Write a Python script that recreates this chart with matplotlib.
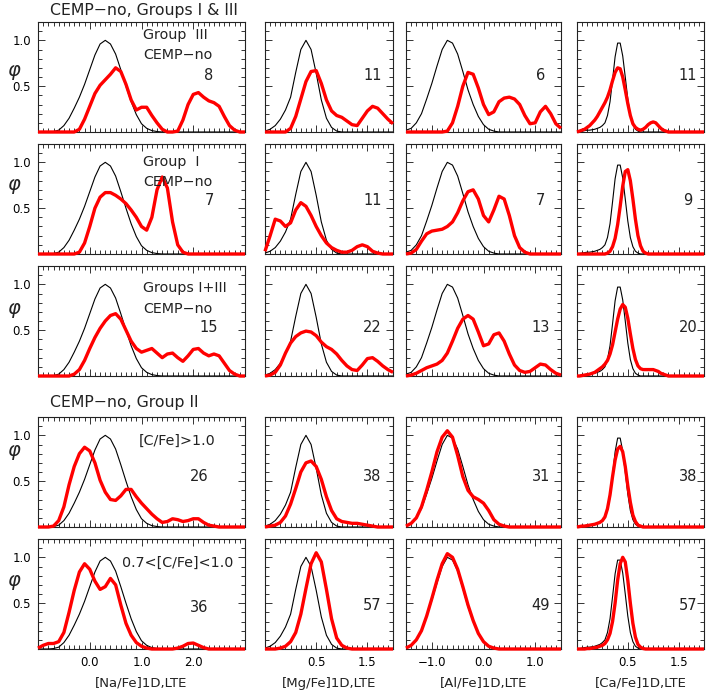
import numpy as np
import matplotlib
matplotlib.use("Agg")
import matplotlib.pyplot as plt
from matplotlib.ticker import MultipleLocator, FixedLocator, FixedFormatter, NullFormatter

plt.rcParams['font.family'] = ['DejaVu Sans']
plt.rcParams['mathtext.fontset'] = 'dejavusans'

# ---------------- data ----------------
na_x = np.round(np.arange(-1.0, 3.0001, 0.1), 2)
mg_x = np.round(np.arange(-0.5, 2.0001, 0.1), 2)
al_x = np.round(np.arange(-1.5, 1.5001, 0.1), 2)
ca_x = np.round(np.arange(-0.5, 2.0001, 0.05), 3)

na_black = [0, 0, 0, 0.005, 0.02, 0.07, 0.15, 0.26, 0.38, 0.52, 0.68, 0.84, 0.96, 1.0, 0.96,
            0.85, 0.68, 0.5, 0.33, 0.19, 0.09, 0.04, 0.015, 0.005, 0, 0, 0, 0, 0, 0,
            0, 0, 0, 0, 0, 0, 0, 0, 0, 0, 0]
na_g3 = [0, 0, 0, 0, 0, 0, 0, 0, 0.03, 0.14, 0.28, 0.42, 0.51, 0.57, 0.63, 0.70, 0.66, 0.52,
         0.35, 0.24, 0.27, 0.27, 0.18, 0.1, 0.03, 0.0, 0, 0.01, 0.13, 0.3, 0.41, 0.43, 0.38,
         0.34, 0.32, 0.28, 0.17, 0.07, 0.02, 0, 0]
na_g1 = [0, 0, 0, 0, 0, 0, 0, 0, 0.02, 0.12, 0.3, 0.5, 0.62, 0.67, 0.67, 0.64, 0.6, 0.55,
         0.48, 0.4, 0.3, 0.26, 0.4, 0.7, 0.84, 0.72, 0.35, 0.1, 0.02, 0, 0, 0, 0, 0, 0, 0,
         0, 0, 0, 0, 0]
na_g13 = [0, 0, 0, 0, 0, 0, 0, 0.02, 0.07, 0.17, 0.3, 0.42, 0.52, 0.6, 0.66, 0.68, 0.62,
          0.5, 0.38, 0.3, 0.26, 0.28, 0.3, 0.25, 0.2, 0.24, 0.25, 0.2, 0.16, 0.22, 0.29,
          0.3, 0.25, 0.22, 0.24, 0.22, 0.14, 0.06, 0.02, 0, 0]
na_g2a = [0, 0, 0, 0.01, 0.07, 0.22, 0.46, 0.66, 0.8, 0.87, 0.83, 0.7, 0.51, 0.38, 0.3,
          0.29, 0.34, 0.41, 0.41, 0.33, 0.26, 0.2, 0.14, 0.09, 0.05, 0.06, 0.09, 0.08,
          0.06, 0.07, 0.09, 0.09, 0.05, 0.02, 0.01, 0, 0, 0, 0, 0, 0]
na_g2b = [0.01, 0.04, 0.06, 0.06, 0.08, 0.18, 0.4, 0.64, 0.84, 0.93, 0.87, 0.74, 0.65,
          0.68, 0.77, 0.7, 0.48, 0.28, 0.15, 0.07, 0.03, 0.01, 0, 0, 0, 0, 0, 0.01, 0.03,
          0.06, 0.065, 0.04, 0.015, 0, 0, 0, 0, 0, 0, 0, 0]

mg_black = [0.01, 0.03, 0.07, 0.14, 0.24, 0.38, 0.65, 0.9, 1.0, 0.9, 0.64, 0.35, 0.15,
            0.05, 0.01, 0, 0, 0, 0, 0, 0, 0, 0, 0, 0, 0]
mg_g3 = [0, 0, 0, 0, 0, 0.04, 0.17, 0.36, 0.55, 0.66, 0.67, 0.53, 0.35, 0.23, 0.18, 0.16,
         0.12, 0.08, 0.07, 0.15, 0.23, 0.28, 0.26, 0.2, 0.14, 0.09]
mg_g1 = [0.03, 0.2, 0.38, 0.36, 0.3, 0.34, 0.48, 0.56, 0.52, 0.42, 0.3, 0.2, 0.12, 0.07,
         0.04, 0.02, 0.02, 0.04, 0.08, 0.1, 0.08, 0.03, 0.01, 0, 0, 0]
mg_g13 = [0, 0.01, 0.04, 0.12, 0.25, 0.36, 0.43, 0.47, 0.49, 0.48, 0.44, 0.37, 0.32, 0.29,
          0.24, 0.17, 0.11, 0.07, 0.06, 0.12, 0.19, 0.2, 0.16, 0.11, 0.07, 0.04]
mg_g2a = [0.0, 0.01, 0.02, 0.05, 0.12, 0.25, 0.42, 0.6, 0.7, 0.72, 0.66, 0.52, 0.33, 0.18,
          0.09, 0.06, 0.05, 0.04, 0.04, 0.03, 0.02, 0.01, 0, 0, 0, 0]
mg_g2b = [0, 0, 0, 0.01, 0.03, 0.08, 0.18, 0.38, 0.66, 0.93, 1.05, 0.95, 0.65, 0.33, 0.12,
          0.04, 0.01, 0, 0, 0, 0, 0, 0, 0, 0, 0]

al_black = [0.02, 0.04, 0.1, 0.2, 0.36, 0.53, 0.72, 0.9, 1.0, 0.97, 0.85, 0.66, 0.46, 0.3,
            0.17, 0.08, 0.03, 0.01, 0, 0, 0, 0, 0, 0, 0, 0, 0, 0, 0, 0, 0]
al_g3 = [0, 0, 0, 0, 0, 0, 0, 0, 0.01, 0.1, 0.28, 0.5, 0.65, 0.63, 0.48, 0.3, 0.19, 0.22,
         0.33, 0.37, 0.38, 0.36, 0.3, 0.18, 0.09, 0.1, 0.22, 0.28, 0.2, 0.09, 0.04]
al_g1 = [0, 0.01, 0.05, 0.14, 0.22, 0.25, 0.26, 0.27, 0.3, 0.35, 0.45, 0.58, 0.68, 0.7,
         0.6, 0.42, 0.35, 0.48, 0.63, 0.6, 0.42, 0.2, 0.07, 0.02, 0, 0, 0, 0, 0, 0, 0]
al_g13 = [0, 0.01, 0.03, 0.06, 0.09, 0.11, 0.13, 0.17, 0.25, 0.38, 0.52, 0.62, 0.66, 0.62,
          0.48, 0.33, 0.35, 0.45, 0.47, 0.38, 0.24, 0.12, 0.06, 0.04, 0.05, 0.09, 0.13,
          0.12, 0.07, 0.03, 0.01]
al_g2a = [0.01, 0.04, 0.1, 0.22, 0.4, 0.6, 0.82, 0.98, 1.05, 0.98, 0.78, 0.55, 0.4, 0.33,
          0.3, 0.26, 0.18, 0.08, 0.03, 0.01, 0, 0, 0, 0, 0, 0, 0, 0, 0, 0, 0]
al_g2b = [0.01, 0.04, 0.1, 0.2, 0.36, 0.55, 0.75, 0.93, 1.04, 1.0, 0.87, 0.68, 0.48, 0.31,
          0.17, 0.08, 0.03, 0.01, 0, 0, 0, 0, 0, 0, 0, 0, 0, 0, 0, 0, 0]

ca_black = [0.0, 0.005, 0.01, 0.015, 0.02, 0.02, 0.025, 0.03, 0.04, 0.05, 0.07, 0.1, 0.18,
            0.33, 0.57, 0.82, 0.97, 0.97, 0.83, 0.6, 0.36, 0.18, 0.08, 0.03, 0.01, 0,
            0, 0, 0, 0, 0, 0, 0, 0, 0, 0, 0, 0, 0, 0, 0, 0, 0, 0, 0, 0, 0, 0, 0, 0, 0]
ca_g3 = [0, 0.01, 0.02, 0.03, 0.05, 0.07, 0.1, 0.13, 0.17, 0.22, 0.27, 0.32, 0.38, 0.46,
         0.56, 0.65, 0.7, 0.69, 0.6, 0.46, 0.31, 0.18, 0.09, 0.05, 0.03, 0.02, 0.03, 0.05,
         0.08, 0.1, 0.11, 0.1, 0.07, 0.04, 0.02, 0.01, 0, 0, 0, 0, 0, 0, 0, 0, 0, 0, 0,
         0, 0, 0, 0]
ca_g1 = [0, 0, 0, 0, 0, 0, 0, 0, 0, 0, 0, 0, 0.01, 0.03, 0.08, 0.17, 0.32, 0.52, 0.74,
         0.9, 0.92, 0.8, 0.6, 0.38, 0.2, 0.09, 0.03, 0.01, 0, 0, 0, 0, 0, 0, 0, 0, 0, 0,
         0, 0, 0, 0, 0, 0, 0, 0, 0, 0, 0, 0, 0]
ca_g13 = [0, 0, 0.005, 0.01, 0.015, 0.02, 0.03, 0.04, 0.06, 0.08, 0.1, 0.13, 0.17, 0.24,
          0.34, 0.48, 0.62, 0.73, 0.78, 0.75, 0.63, 0.46, 0.3, 0.18, 0.11, 0.08, 0.07,
          0.07, 0.07, 0.07, 0.07, 0.06, 0.05, 0.03, 0.02, 0.01, 0, 0, 0, 0, 0, 0, 0, 0,
          0, 0, 0, 0, 0, 0, 0]
ca_g2a = [0, 0.005, 0.01, 0.01, 0.015, 0.02, 0.025, 0.03, 0.04, 0.05, 0.07, 0.11, 0.2,
          0.35, 0.55, 0.73, 0.85, 0.88, 0.82, 0.66, 0.45, 0.27, 0.13, 0.06, 0.02, 0.01,
          0, 0, 0, 0, 0, 0, 0, 0, 0, 0, 0, 0, 0, 0, 0, 0, 0, 0, 0, 0, 0, 0, 0, 0, 0]
ca_g2b = [0, 0, 0, 0, 0.005, 0.005, 0.01, 0.015, 0.02, 0.03, 0.04, 0.06, 0.1, 0.17, 0.3,
          0.5, 0.75, 0.93, 1.0, 0.95, 0.75, 0.5, 0.28, 0.13, 0.05, 0.02, 0.005, 0, 0, 0,
          0, 0, 0, 0, 0, 0, 0, 0, 0, 0, 0, 0, 0, 0, 0, 0, 0, 0, 0, 0, 0]

counts = [[8, 11, 6, 11],
          [7, 11, 7, 9],
          [15, 22, 13, 20],
          [26, 38, 31, 38],
          [36, 57, 49, 57]]
row_labels = [["Group  III", "CEMP\u2212no"],
              ["Group  I", "CEMP\u2212no"],
              ["Groups I+III", "CEMP\u2212no"],
              ["[C/Fe]>1.0"],
              ["0.7<[C/Fe]<1.0"]]
xlabels = ["[Na/Fe]1D,LTE", "[Mg/Fe]1D,LTE", "[Al/Fe]1D,LTE", "[Ca/Fe]1D,LTE"]
titles = ["CEMP\u2212no, Groups I & III", "CEMP\u2212no, Group II"]

grids = [na_x, mg_x, al_x, ca_x]
blacks = [na_black, mg_black, al_black, ca_black]
reds = [[na_g3, mg_g3, al_g3, ca_g3],
        [na_g1, mg_g1, al_g1, ca_g1],
        [na_g13, mg_g13, al_g13, ca_g13],
        [na_g2a, mg_g2a, al_g2a, ca_g2a],
        [na_g2b, mg_g2b, al_g2b, ca_g2b]]

# ---------------- layout ----------------
W, H = 708, 691
fig = plt.figure(figsize=(W / 100, H / 100), dpi=100)
col_px = [(38, 245), (265, 393), (406, 561), (577, 704)]
row_px = [(22, 132), (144, 254), (266, 376), (417, 527), (539, 649)]
xlims = [(-1.0, 3.0), (-0.5, 2.0), (-1.5, 1.5), (-0.5, 2.0)]
xmaj = [[0, 1, 2], [0.5, 1.5], [-1, 0, 1], [0.5, 1.5]]
xmajlab = [["0.0", "1.0", "2.0"], ["0.5", "1.5"], ["\u22121.0", "0.0", "1.0"], ["0.5", "1.5"]]
num_pos_x = [0.826, 0.84, 0.87, 0.874]
num_pos_y = [0.51, 0.49, 0.445, 0.46, 0.40]
lab_x = [1.03, 1.03, 1.03, 0.95, 0.62]
lab_y = [[1.06, 0.84], [1.0, 0.79], [0.96, 0.73], [0.94], [0.94]]

for r, (t, b) in enumerate(row_px):
    for c, (l, rr) in enumerate(col_px):
        ax = fig.add_axes([l / W, 1 - b / H, (rr - l) / W, (b - t) / H])
        ax.set_xlim(*xlims[c])
        ax.set_ylim(0, 1.2)
        ax.plot(grids[c], blacks[c], color='black', lw=0.8, solid_joinstyle='round')
        ax.plot(grids[c], reds[r][c], color='#ff0000', lw=2.4, clip_on=False,
                solid_capstyle='butt', solid_joinstyle='round', zorder=3)
        ax.xaxis.set_major_locator(FixedLocator(xmaj[c]))
        ax.xaxis.set_minor_locator(MultipleLocator(0.1))
        ax.yaxis.set_major_locator(FixedLocator([0.5, 1.0]))
        ax.yaxis.set_minor_locator(MultipleLocator(0.1))
        ax.tick_params(which='both', direction='in', top=True, right=True,
                       width=0.7, color='#333333', labelsize=8.5, pad=5)
        ax.tick_params(which='major', length=5)
        ax.tick_params(which='minor', length=3)
        if r == 4:
            ax.xaxis.set_major_formatter(FixedFormatter(xmajlab[c]))
        else:
            ax.xaxis.set_major_formatter(NullFormatter())
        if c == 0:
            ax.yaxis.set_major_formatter(FixedFormatter(["0.5", "1.0"]))
        else:
            ax.yaxis.set_major_formatter(NullFormatter())
        for s in ax.spines.values():
            s.set_linewidth(0.8)
            s.set_color('#222222')
        ax.text(num_pos_x[c] if not (c == 0 and r >= 3) else 0.78,
                num_pos_y[r] if not (r == 4 and c == 0) else 0.38,
                str(counts[r][c]), transform=ax.transAxes, ha='center', va='center',
                fontsize=10.5, color='#222222')
        if c == 0:
            for k, s in enumerate(row_labels[r]):
                ax.text(lab_x[r], lab_y[r][k], s, ha='left', va='center', fontsize=10.3,
                        color='#222222')

# titles, phi labels, x labels
fig.text(50 / W, 1 - 10 / H, titles[0], ha='left', va='center', fontsize=11.3, color='#222222')
fig.text(50 / W, 1 - 403 / H, titles[1], ha='left', va='center', fontsize=11.3, color='#222222')
for yp in [72, 186, 310, 453, 583]:
    fig.text(14 / W, 1 - yp / H, r'$\varphi$', ha='center', va='center', fontsize=14,
             color='#222222')
for c, (l, rr) in enumerate(col_px):
    fig.text((l + rr) / 2 / W, 1 - 683 / H, xlabels[c], ha='center', va='center',
             fontsize=9.5, color='#222222')

fig.savefig("out.png", dpi=100)
